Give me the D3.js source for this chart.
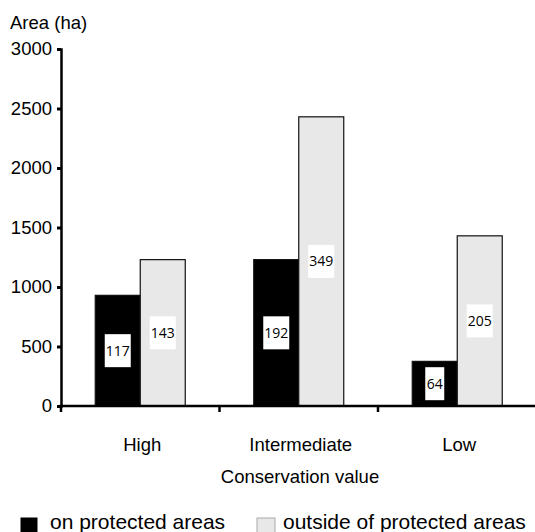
<!DOCTYPE html>
<html>
<head>
<meta charset="utf-8">
<script src="https://cdn.jsdelivr.net/npm/d3@7"></script>
<style>
  body { margin: 0; background: #fff; }
  text { font-family: Arial, "Liberation Sans", sans-serif; fill: #000; }
</style>
</head>
<body>
<svg id="chart" width="535" height="532"></svg>
<script>
(function(){
	"use strict";

	var categories = ["High", "Intermediate", "Low"];
	var series = ["on protected areas", "outside of protected areas"];
	var onProtected = [930, 1230, 375];
	var outsideProtected = [1230, 2430, 1430];
	var onCounts = [117, 192, 64];
	var outsideCounts = [143, 349, 205];
	var yTicks = [0, 500, 1000, 1500, 2000, 2500, 3000];

	var svg = d3.select("#chart");
	var colors = { "on protected areas": "#000", "outside of protected areas": "#e8e8e8" };

	var x = d3.scaleBand()
	    .domain(categories)
	    .range([61, 536.5])
	    .padding(0);
	var xSub = d3.scaleBand()
	    .domain(series)
	    .range([0, 90]);
	var y = d3.scaleLinear()
	    .domain([0, 3000])
	    .range([406, 49]);

	var rows = [];
	categories.forEach(function(c, i){
		rows.push({ cat: c, s: series[0], v: onProtected[i], n: onCounts[i] });
		rows.push({ cat: c, s: series[1], v: outsideProtected[i], n: outsideCounts[i] });
	});
	function bx(d){ return x(d.cat) + x.bandwidth() / 2 - 45 + xSub(d.s); }

	// bars
	svg.append("g").selectAll("rect")
	    .data(rows)
	  .enter().append("rect")
	    .attr("x", bx)
	    .attr("y", function(d){ return y(d.v); })
	    .attr("width", xSub.bandwidth())
	    .attr("height", function(d){ return y(0) - y(d.v); })
	    .attr("fill", function(d){ return colors[d.s]; })
	    .attr("stroke", "#111")
	    .attr("stroke-width", 1.2);

	// count labels in white boxes, about mid-bar
	var lab = svg.append("g").selectAll("g")
	    .data(rows)
	  .enter().append("g")
	    .attr("transform", function(d){
	    	return "translate(" + (bx(d) + xSub.bandwidth() / 2) + "," + y(d.v / 2) + ")";
	    });
	lab.append("rect")
	    .attr("x", function(d){ return String(d.n).length > 2 ? -13 : -9.5; })
	    .attr("y", -16.5)
	    .attr("width", function(d){ return String(d.n).length > 2 ? 26 : 19; })
	    .attr("height", 33)
	    .attr("fill", "#fff");
	lab.append("text")
	    .attr("text-anchor", "middle")
	    .attr("dy", "0.35em")
	    .style("font-family", "'Open Sans', sans-serif")
	    .style("font-size", "14px")
	    .text(function(d){ return d.n; });

	// y axis
	var yAxis = svg.append("g")
	    .attr("transform", "translate(61,0)")
	    .call(d3.axisLeft(y).tickValues(yTicks).tickSize(4).tickPadding(5).tickFormat(d3.format("d")));
	yAxis.select(".domain").attr("stroke", "#000").attr("stroke-width", 2.5);
	yAxis.selectAll(".tick line").attr("stroke", "#000").attr("stroke-width", 3);
	yAxis.selectAll(".tick text")
	    .style("font-family", "Arial, 'Liberation Sans', sans-serif")
	    .style("font-size", "18.5px")
	    .attr("fill", "#000");

	// x axis line and ticks at band edges
	var xa = svg.append("g");
	xa.append("line")
	    .attr("x1", 59.5).attr("x2", 535)
	    .attr("y1", y(0)).attr("y2", y(0))
	    .attr("stroke", "#000").attr("stroke-width", 2.5);
	xa.selectAll("line.tk")
	    .data(categories)
	  .enter().append("line")
	    .attr("class", "tk")
	    .attr("x1", function(d){ return x(d); })
	    .attr("x2", function(d){ return x(d); })
	    .attr("y1", y(0))
	    .attr("y2", y(0) + 6)
	    .attr("stroke", "#000").attr("stroke-width", 2.5);
	xa.selectAll("text")
	    .data(categories)
	  .enter().append("text")
	    .attr("x", function(d){ return x(d) + x.bandwidth() / 2 + 2; })
	    .attr("y", 451)
	    .attr("text-anchor", "middle")
	    .style("font-size", "18.5px")
	    .text(function(d){ return d; });

	svg.append("text")
	    .attr("x", 300)
	    .attr("y", 483)
	    .attr("text-anchor", "middle")
	    .style("font-size", "18.5px")
	    .text("Conservation value");

	svg.append("text")
	    .attr("x", 10)
	    .attr("y", 29)
	    .style("font-size", "18.5px")
	    .text("Area (ha)");

	// legend
	var legX = [21, 257];
	var leg = svg.append("g").selectAll("g")
	    .data(series)
	  .enter().append("g")
	    .attr("transform", function(d, i){ return "translate(" + legX[i] + ",0)"; });
	leg.append("rect")
	    .attr("x", 0)
	    .attr("y", 518)
	    .attr("width", function(d, i){ return i ? 18 : 16; })
	    .attr("height", 18)
	    .attr("fill", function(d){ return colors[d]; })
	    .attr("stroke", function(d, i){ return i ? "#aaa" : "#000"; })
	    .attr("stroke-width", 1);
	leg.append("text")
	    .attr("x", function(d, i){ return i ? 26 : 29; })
	    .attr("y", 529)
	    .style("font-size", "21px")
	    .text(function(d){ return d; });
})();
</script>
</body>
</html>
